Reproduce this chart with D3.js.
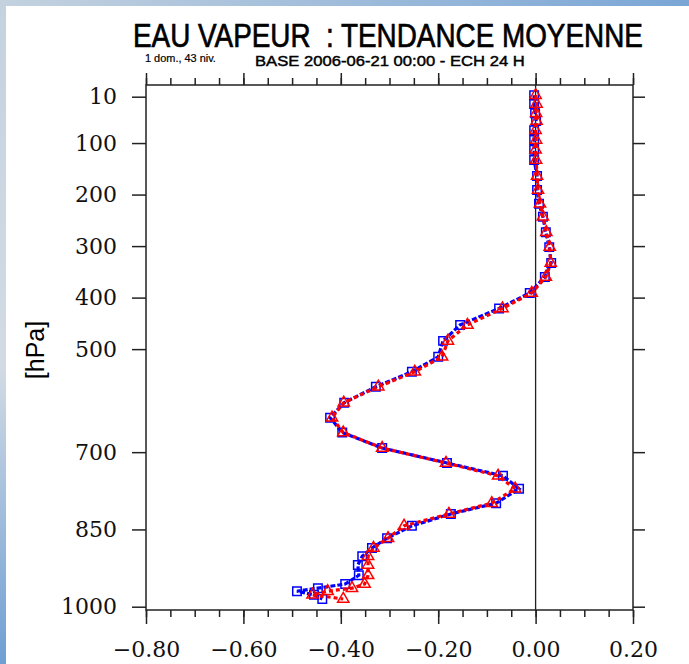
<!DOCTYPE html>
<html>
<head>
<meta charset="utf-8">
<script src="https://cdn.jsdelivr.net/npm/d3@7"></script>
<style>
    body { margin: 0; background: #fff; }
    svg { display: block; }
</style>
</head>
<body>
<svg id="chart"></svg>
<script>
// pressure levels (hPa) of the 43 model levels
let levels = [7, 24, 42, 57, 75, 94, 113, 133, 164, 191, 218, 243, 273, 302, 333, 360, 391,
    421, 453, 484, 515, 544, 573, 604, 633, 662, 692, 721, 746, 771, 799, 820, 843, 867,
    886, 902, 919, 939, 956, 964, 970, 977, 985];

// blue curve (squares)
let blueVals = [-0.003, -0.003, -0.001, 0.001, -0.003, -0.003, -0.003, -0.003, 0.003, 0.003,
    0.007, 0.015, 0.021, 0.028, 0.032, 0.019, -0.012, -0.075, -0.155, -0.19, -0.20, -0.254,
    -0.328, -0.393, -0.422, -0.397, -0.315, -0.182, -0.067, -0.034, -0.081, -0.174, -0.254,
    -0.305, -0.336, -0.356, -0.365, -0.363, -0.391, -0.447, -0.49, -0.455, -0.438];

// red curve (triangles)
let redVals = [0.000, 0.002, 0.001, 0.002, 0.000, 0.001, 0.000, 0.001, 0.003, 0.005,
    0.009, 0.015, 0.022, 0.029, 0.031, 0.021, -0.008, -0.068, -0.14, -0.18, -0.192, -0.248,
    -0.323, -0.394, -0.418, -0.395, -0.315, -0.184, -0.077, -0.042, -0.09, -0.178, -0.27,
    -0.303, -0.333, -0.344, -0.344, -0.344, -0.351, -0.377, -0.427, -0.458, -0.395];

let xMajor = [-0.8, -0.6, -0.4, -0.2, 0.0, 0.2];
let xMinor = d3.range(-0.8, 0.2001, 0.05);
let yTicks = [10, 100, 200, 300, 400, 500, 700, 850, 1000];

let W = 689, H = 664;
let frame = {left: 146, right: 633, top: 85, bottom: 610};

let svg = d3.select("#chart")
    .attr("width", W)
    .attr("height", H);

let x = d3.scaleLinear()
    .domain([-0.8, 0.2])
    .range([frame.left, frame.right]);

let y = d3.scaleLinear()
    .domain([-12.7, 1006.4])
    .range([frame.top, frame.bottom]);

drawBackground();
drawTitles();
drawAxes();
drawSeries(blueVals, "#0000ff", "5,2", "square");
drawSeries(redVals, "#ff0000", "4,3", "triangle");


function drawBackground() {
    let defs = svg.append("defs");
    let gTop = defs.append("linearGradient")
        .attr("id", "gradTop")
        .attr("x1", "0%").attr("x2", "100%")
        .attr("y1", "0%").attr("y2", "0%");
    gTop.append("stop").attr("offset", "0%").attr("stop-color", "#c4d2df");
    gTop.append("stop").attr("offset", "100%").attr("stop-color", "#7aa6d6");
    let gLeft = defs.append("linearGradient")
        .attr("id", "gradLeft")
        .attr("x1", "0%").attr("x2", "0%")
        .attr("y1", "0%").attr("y2", "100%");
    gLeft.append("stop").attr("offset", "0%").attr("stop-color", "#c4d2df");
    gLeft.append("stop").attr("offset", "55%").attr("stop-color", "#d2dbe4");
    gLeft.append("stop").attr("offset", "100%").attr("stop-color", "#6f9fd3");

    svg.append("rect")
        .attr("width", W).attr("height", H)
        .attr("fill", "#fff");
    svg.append("rect")
        .attr("x", 0).attr("y", 0)
        .attr("width", W).attr("height", 6)
        .attr("fill", "url(#gradTop)");
    svg.append("rect")
        .attr("x", 0).attr("y", 0)
        .attr("width", 6).attr("height", H)
        .attr("fill", "url(#gradLeft)");
}

// draws a text squeezed horizontally so that it spans exactly `width` px
function condensedText(str, left, baseline, size, width, strokeW) {
    let t = svg.append("text")
        .attr("x", 0)
        .attr("y", 0)
        .style("font-family", "'Liberation Sans', Arial, sans-serif")
        .style("font-size", size + "px")
        .style("fill", "#000")
        .style("stroke", "#000")
        .style("stroke-width", strokeW)
        .style("white-space", "pre")
        .text(str);
    let natural = t.node().getComputedTextLength();
    let sx = width / natural;
    t.attr("transform", "translate(" + left + "," + baseline + ") scale(" + sx + ",1)");
    return t;
}

function drawTitles() {
    condensedText("EAU VAPEUR  : TENDANCE MOYENNE", 133, 46.5, 34, 510, 0.7);
    condensedText("1 dom., 43 niv.", 145, 62, 10, 71, 0.2);
    condensedText("BASE 2006-06-21 00:00 - ECH 24 H", 255, 65.5, 15, 270, 0.45);

    svg.append("text")
        .attr("transform", "translate(44," + 350 + ") rotate(-90)")
        .style("text-anchor", "middle")
        .style("font-family", "'Liberation Sans', Arial, sans-serif")
        .style("font-size", "25px")
        .text("[hPa]");
}

function styleAxis(g) {
    g.select(".domain").remove();
    g.selectAll(".tick line")
        .attr("stroke", "#222")
        .attr("stroke-width", 1.5);
}

function drawAxes() {
    let fmt = function (d) {
        return d3.format(".2f")(d).replace("-", "\u2212");
    };

    // bottom, major with labels
    let bottom = svg.append("g")
        .attr("transform", "translate(0," + frame.bottom + ")")
        .call(d3.axisBottom(x).tickValues(xMajor).tickSize(14).tickFormat(fmt))
        .call(styleAxis);
    bottom.selectAll(".tick text")
        .attr("y", 47)
        .attr("dy", null)
        .style("font-family", "'DejaVu Serif', serif")
        .style("font-size", "22px")
        .style("fill", "#111");
    svg.append("g")
        .attr("transform", "translate(0," + frame.bottom + ")")
        .call(d3.axisBottom(x).tickValues(xMinor).tickSize(7).tickFormat(""))
        .call(styleAxis);

    // top, no labels
    svg.append("g")
        .attr("transform", "translate(0," + frame.top + ")")
        .call(d3.axisTop(x).tickValues(xMajor).tickSize(12).tickFormat(""))
        .call(styleAxis);
    svg.append("g")
        .attr("transform", "translate(0," + frame.top + ")")
        .call(d3.axisTop(x).tickValues(xMinor).tickSize(7).tickFormat(""))
        .call(styleAxis);

    // left with pressure labels
    let left = svg.append("g")
        .attr("transform", "translate(" + frame.left + ",0)")
        .call(d3.axisLeft(y).tickValues(yTicks).tickSize(14).tickPadding(15)
            .tickFormat(d3.format("d")))
        .call(styleAxis);
    left.selectAll(".tick text")
        .style("font-family", "'DejaVu Serif', serif")
        .style("font-size", "22px")
        .style("fill", "#111");

    // right, ticks only
    svg.append("g")
        .attr("transform", "translate(" + frame.right + ",0)")
        .call(d3.axisRight(y).tickValues(yTicks).tickSize(12).tickFormat(""))
        .call(styleAxis);

    // zero line
    svg.append("line")
        .attr("x1", x(0)).attr("x2", x(0))
        .attr("y1", frame.top).attr("y2", frame.bottom)
        .attr("stroke", "#222")
        .attr("stroke-width", 1.3);

    // frame
    svg.append("rect")
        .attr("x", frame.left)
        .attr("y", frame.top)
        .attr("width", frame.right - frame.left)
        .attr("height", frame.bottom - frame.top)
        .attr("fill", "none")
        .attr("stroke", "#222")
        .attr("stroke-width", 1.5);
}

function drawSeries(vals, color, dash, marker) {
    let pts = [];
    for (let i = 0; i < levels.length; i++) {
        pts.push({p: levels[i], v: vals[i]});
    }
    let line = d3.line()
        .x(function (d) { return x(d.v); })
        .y(function (d) { return y(d.p); });

    svg.append("path")
        .datum(pts)
        .attr("d", line)
        .attr("fill", "none")
        .attr("stroke", color)
        .attr("stroke-width", 3.2)
        .attr("stroke-dasharray", dash);

    let sym = marker === "square" ? d3.symbolSquare : d3.symbolTriangle;
    let size = marker === "square" ? 72 : 55;
    svg.selectAll(null)
        .data(pts)
        .enter()
        .append("path")
        .attr("d", d3.symbol().type(sym).size(size))
        .attr("transform", function (d) {
            return "translate(" + x(d.v) + "," + y(d.p) + ")";
        })
        .attr("fill", "none")
        .attr("stroke", color)
        .attr("stroke-width", 1.5);
}
</script>
</body>
</html>
